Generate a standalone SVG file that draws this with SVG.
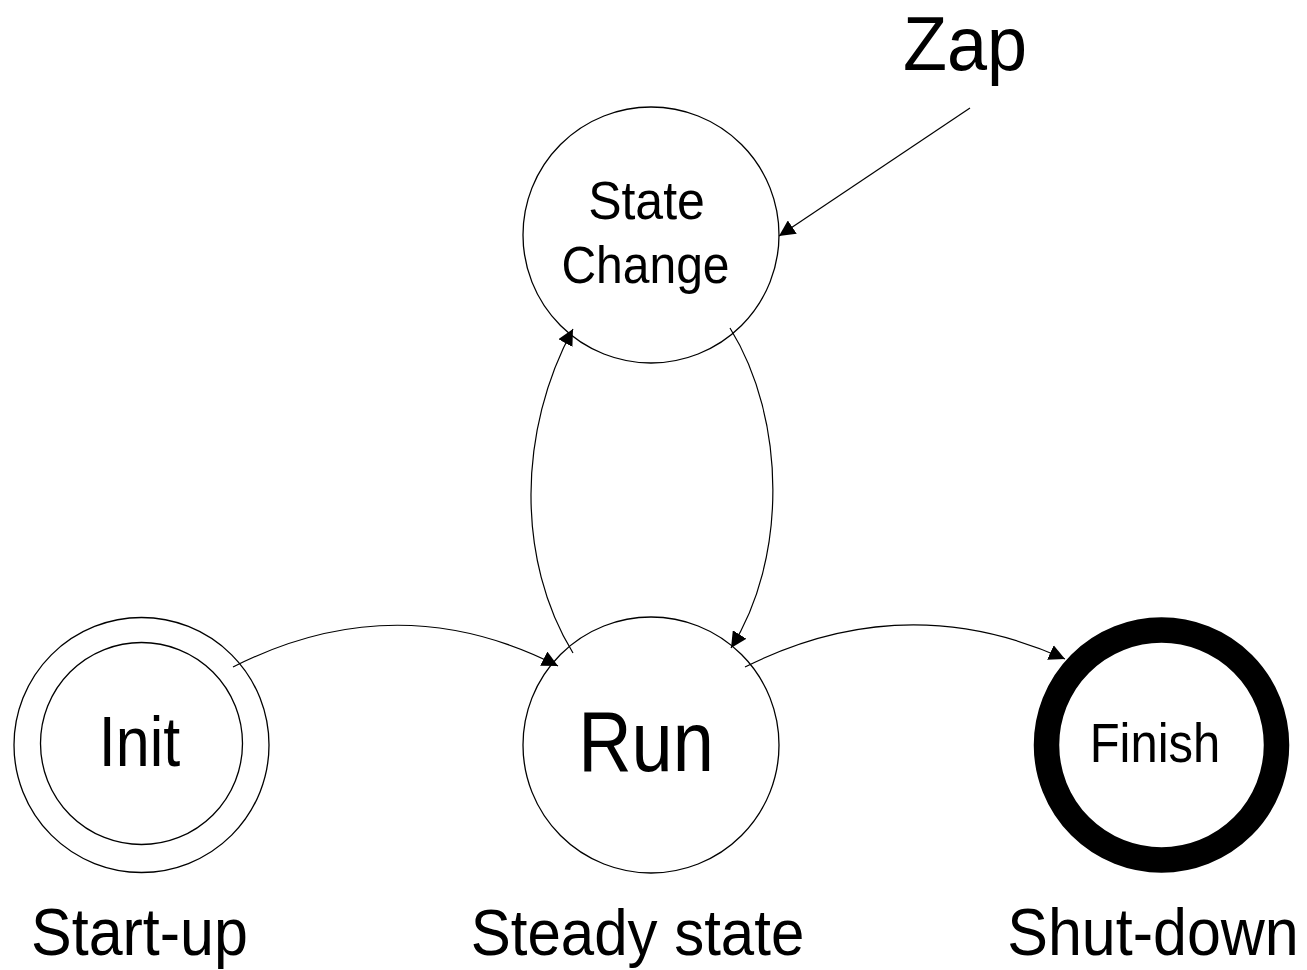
<svg xmlns="http://www.w3.org/2000/svg" width="1307" height="970" viewBox="0 0 1307 970">
<style>
  .node { fill: #fff; stroke: #000; stroke-width: 1.3; }
  .edge { fill: none; stroke: #000; stroke-width: 1.2; }
  text { font-family: "Liberation Sans", Arial, sans-serif; fill: #000; text-anchor: middle; }
</style>
<defs>
  <marker id="arrow" markerUnits="userSpaceOnUse" markerWidth="17" markerHeight="16" refX="16" refY="8" orient="auto" viewBox="0 0 17 16">
    <path d="M0,0 L16,8 L0,16 z" fill="#000"/>
  </marker>
</defs>
<rect width="1307" height="970" fill="#fff"/>

<g id="node-statechange">
  <circle class="node" cx="651" cy="235" r="128"/>
  <text transform="translate(646.5,219) scale(1,1.08)" font-size="50">State</text>
  <text transform="translate(645.5,283) scale(1,1.08)" font-size="48">Change</text>
</g>

<g id="node-init">
  <circle class="node" cx="141.5" cy="745" r="127.5"/>
  <circle class="node" cx="141.5" cy="743.5" r="101"/>
  <text transform="translate(139.5,766) scale(1,1.14)" font-size="61">Init</text>
</g>

<g id="node-run">
  <circle class="node" cx="651" cy="745" r="128"/>
  <text transform="translate(646,771) scale(1,1.15)" font-size="74">Run</text>
</g>

<g id="node-finish">
  <circle cx="1161.5" cy="745" r="115" fill="#fff" stroke="#000" stroke-width="25.5"/>
  <text transform="translate(1155,762) scale(1,1.12)" font-size="49">Finish</text>
</g>

<g id="label-zap">
  <text transform="translate(965,70) scale(1,1.06)" font-size="72">Zap</text>
</g>
<g id="label-startup">
  <text transform="translate(139.5,955) scale(1,1.08)" font-size="61">Start-up</text>
</g>
<g id="label-steady">
  <text transform="translate(637.5,955) scale(1,1.08)" font-size="60">Steady state</text>
</g>
<g id="label-shutdown">
  <text transform="translate(1153,955) scale(1,1.08)" font-size="61">Shut-down</text>
</g>

<g id="connectors">
  <path class="edge" d="M233,667 Q397,584 558,666" marker-end="url(#arrow)"/>
  <path class="edge" d="M745,667 Q905,587 1065,659" marker-end="url(#arrow)"/>
  <path class="edge" d="M573,653 C516,560 518,430 573,329" marker-end="url(#arrow)"/>
  <path class="edge" d="M730,328 C787,420 787,560 731,648" marker-end="url(#arrow)"/>
  <path class="edge" d="M970,108 L779,236" marker-end="url(#arrow)"/>
</g>
</svg>
